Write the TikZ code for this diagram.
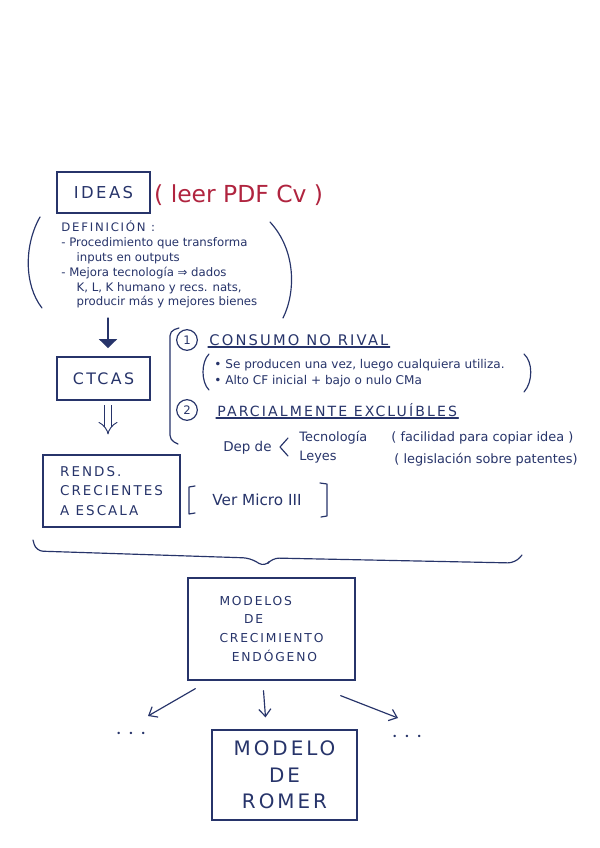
\documentclass[tikz,border=0pt]{standalone}
\usepackage{fontspec}
\setmainfont{DejaVu Sans}
\newfontfamily\spaced[LetterSpace=15]{DejaVu Sans}
\usetikzlibrary{arrows.meta,calc}
\definecolor{inkblue}{HTML}{27346A}
\definecolor{inkred}{HTML}{B0243F}
\tikzset{
  card/.style={
    draw=inkblue,
    line width=1.1pt,
    align=center,
    text=inkblue,
    inner sep=4pt
  },
  jot/.style={text=inkblue, align=left, inner sep=1pt},
  numdot/.style={
    circle,
    draw=inkblue,
    line width=1pt,
    minimum size=0.62cm,
    inner sep=0pt,
    text=inkblue,
    font=\fontsize{10}{12}\selectfont
  },
  penline/.style={draw=inkblue, line width=1pt, line cap=round, line join=round},
  flow/.style={-{Straight Barb[length=2.2mm,width=3.6mm]}, penline},
  solidflow/.style={-{Triangle[length=2.7mm,width=5.4mm]}, penline, fill=inkblue},
  thenflow/.style={-{Implies}, draw=inkblue, line width=0.8pt, double=white, double distance=5pt}
}

\begin{document}
\begin{tikzpicture}[x=0.03cm,y=-0.03cm]
\useasboundingbox[fill=white] (0,0) rectangle (600,848);

\node[card, minimum width=2.79cm, minimum height=1.23cm, font=\spaced\fontsize{14}{16}\selectfont] (ideas) at (103.5,192.5) {IDEAS};
\node[text=inkred, anchor=west, inner sep=0pt, font=\fontsize{20}{24}\selectfont] (leer) at (154,195) {( leer PDF Cv )};

\node[jot, anchor=north west, font=\fontsize{10}{12.75}\selectfont] (defn) at (60,219)
  {{\spaced DEFINICIÓN :}\\- Procedimiento que transforma\\\hspace*{1.3em}inputs en outputs\\- Mejora tecnología ⇒ dados\\\hspace*{1.3em}K, L, K humano y recs. nats,\\\hspace*{1.3em}producir más y mejores bienes};
\draw[penline] (40,217) .. controls (24,245) and (24,285) .. (42,308);
\draw[penline] (270,222) .. controls (296,250) and (296,292) .. (283,318);

\node[card, minimum width=2.79cm, minimum height=1.29cm, font=\spaced\fontsize{13.5}{16}\selectfont] (ctcas) at (103.5,378.5) {CTCAS};
\coordinate (defend) at (108,318);
\draw[solidflow, shorten >=7pt] (defend) -- (defend |- ctcas.north);

\node[card, minimum width=4.11cm, minimum height=2.16cm, align=left, font=\spaced\fontsize{11.5}{16.6}\selectfont] (rends) at (111.5,491) {RENDS.\\CRECIENTES\\A ESCALA};
\draw[thenflow, shorten <=4pt, shorten >=17pt] (ctcas.south -| defend) -- (rends.north -| defend);

% caracteristicas
\draw[penline, rounded corners=4pt] (179,328) -- (170,331) -- (170,440) -- (178,444);
\node[numdot] (one) at (187,340) {1};
\node[numdot] (two) at (187,410) {2};

\node[jot, anchor=west, font=\spaced\fontsize{12.5}{14}\selectfont] (rival) at (208,340) {CONSUMO NO RIVAL};
\draw[penline] (rival.south west) -- (rival.south east);
\node[jot, anchor=west, font=\fontsize{10.3}{13.5}\selectfont] (traits) at (213,373)
  {• Se producen una vez, luego cualquiera utiliza.\\• Alto CF inicial + bajo o nulo CMa};
\draw[penline] (209,354) .. controls (201,362) and (201,382) .. (209,390);
\draw[penline] (524,354) .. controls (533,362) and (533,382) .. (524,392);

\node[jot, anchor=west, font=\spaced\fontsize{12}{14}\selectfont] (excl) at (216,410) {PARCIALMENTE EXCLUÍBLES};
\draw[penline] (excl.south west) -- (excl.south east);

\node[jot, anchor=east, font=\fontsize{11.5}{13}\selectfont] (dep) at (273,448) {Dep de};
\draw[penline] (288,438) -- (280,447) -- (288,456);
\node[jot, anchor=west, font=\fontsize{11}{13}\selectfont] (tecno) at (298,438) {Tecnología};
\node[jot, anchor=west, font=\fontsize{11}{13}\selectfont] (leyes) at (298,457) {Leyes};
\node[jot, anchor=west, font=\fontsize{11}{13}\selectfont] (copiar) at (390,438) {( facilidad para copiar idea )};
\node[jot, anchor=west, font=\fontsize{11}{13}\selectfont] (patentes) at (393,460) {( legislación sobre patentes)};

\node[jot, font=\fontsize{13}{15}\selectfont] (micro) at (257,500) {Ver Micro III};
\draw[penline] (195,486) -- (189,487) -- (189,514) -- (195,513);
\draw[penline] (320,483) -- (327,484) -- (327,516) -- (321,517);

% llave
\draw[penline, rounded corners=6pt] (33,540) -- (36,551) -- (250,558) -- (265,567) -- (272,558) -- (515,563) -- (522,555);

\node[card, minimum width=5.01cm, minimum height=3.06cm, align=left, font=\spaced\fontsize{10.5}{16.2}\selectfont] (modelos) at (271.5,629)
  {MODELOS\\\hspace*{2em}DE\\CRECIMIENTO\\\hspace*{1em}ENDÓGENO};

\node[jot, font=\fontsize{7}{9}\selectfont] (etcl) at (131,734) {•\hspace{0.9em}•\hspace{0.9em}•};
\node[jot, font=\fontsize{7}{9}\selectfont] (etcr) at (407,737) {•\hspace{0.9em}•\hspace{0.9em}•};
\node[card, minimum width=4.35cm, minimum height=2.7cm, font=\spaced\fontsize{17}{22.5}\selectfont] (romer) at (284.5,775) {MODELO\\DE\\ROMER};

\draw[flow] ($(modelos.south west)+(8,8)$) -- ($(etcl)+(17,-18)$);
\draw[flow] ($(modelos.south)+(-8,10)$) -- ($(romer.north)+(-19,-12)$);
\draw[flow] ($(modelos.south east)+(-15,15)$) -- ($(etcr)+(-9,-19)$);

\end{tikzpicture}
\end{document}
